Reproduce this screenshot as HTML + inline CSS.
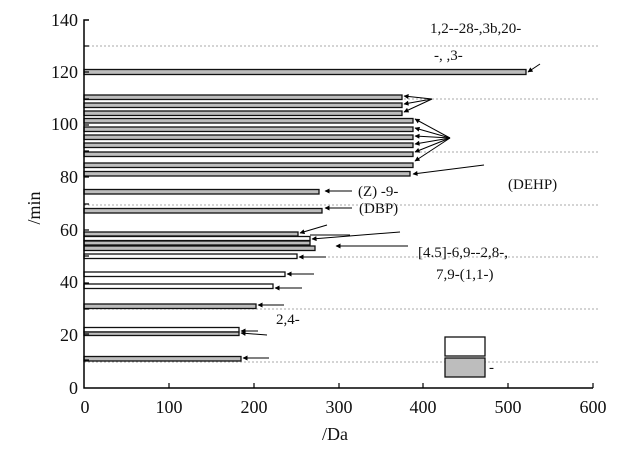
<!DOCTYPE html>
<html><head><meta charset="utf-8"><style>
html,body{margin:0;padding:0;background:#fff;}
svg{display:block;font-family:"Liberation Serif","Noto Serif CJK SC",serif;}
</style></head><body>
<svg width="634" height="451" viewBox="0 0 634 451" xmlns="http://www.w3.org/2000/svg">
<defs>
<marker id="ah" viewBox="0 0 10 10" refX="9" refY="5" markerWidth="7" markerHeight="5" orient="auto" markerUnits="userSpaceOnUse"><path d="M0,0 L10,5 L0,10 z" fill="#000"/></marker>
</defs>
<g stroke="#aaa" stroke-width="1" stroke-dasharray="2,2">
<line x1="84" y1="46" x2="600" y2="46"/>
<line x1="84" y1="99" x2="600" y2="99"/>
<line x1="84" y1="152" x2="600" y2="152"/>
<line x1="84" y1="205" x2="600" y2="205"/>
<line x1="84" y1="257" x2="600" y2="257"/>
<line x1="84" y1="309" x2="600" y2="309"/>
<line x1="84" y1="362" x2="600" y2="362"/>
</g>
<g stroke="#111" stroke-width="1.3" fill="#bdbdbd">
<rect x="84" y="69.5" width="442" height="5"/>
<rect x="84" y="95" width="318" height="4.5"/>
<rect x="84" y="103" width="318" height="4.5"/>
<rect x="84" y="111" width="318" height="4.5"/>
<rect x="84" y="118.5" width="329" height="4.5"/>
<rect x="84" y="127" width="329" height="4.5"/>
<rect x="84" y="135" width="329" height="4.5"/>
<rect x="84" y="143" width="329" height="4.5"/>
<rect x="84" y="152" width="329" height="4.5"/>
<rect x="84" y="163" width="329" height="4.5"/>
<rect x="84" y="171.5" width="326" height="4.5"/>
<rect x="84" y="189.5" width="235" height="4.5"/>
<rect x="84" y="208.5" width="238" height="4.5"/>
<rect x="84" y="232" width="214" height="4"/>
<rect x="84" y="236.5" width="226" height="4" fill="#fff"/>
<rect x="84" y="241" width="226" height="4"/>
<rect x="84" y="246" width="231" height="4.5"/>
<rect x="84" y="254" width="213" height="4.5" fill="#fff"/>
<rect x="84" y="272" width="201" height="4.5" fill="#fff"/>
<rect x="84" y="284" width="189" height="4.5" fill="#fff"/>
<rect x="84" y="304" width="172" height="4.5"/>
<rect x="84" y="327.5" width="155" height="4.5" fill="#fff"/>
<rect x="84" y="332" width="155" height="3.5"/>
<rect x="84" y="356.5" width="157" height="4.5"/>
<rect x="445" y="337" width="40" height="19" fill="#fff"/>
<rect x="445" y="358" width="40" height="19"/>
</g>
<g stroke="#000" stroke-width="1" fill="none" marker-end="url(#ah)">
<line x1="540" y1="64" x2="528" y2="72"/>
<line x1="432" y1="99" x2="404" y2="96"/>
<line x1="432" y1="99" x2="404" y2="104"/>
<line x1="432" y1="99" x2="404" y2="112"/>
<line x1="450" y1="138" x2="415" y2="119"/>
<line x1="450" y1="138" x2="415" y2="128"/>
<line x1="450" y1="138" x2="415" y2="136"/>
<line x1="450" y1="138" x2="415" y2="144"/>
<line x1="450" y1="138" x2="415" y2="152"/>
<line x1="450" y1="138" x2="415" y2="161"/>
<line x1="484" y1="165" x2="413" y2="174"/>
<line x1="352" y1="191" x2="325" y2="191"/>
<line x1="352" y1="208" x2="325" y2="208"/>
<line x1="327" y1="225" x2="300" y2="233"/>
<line x1="400" y1="232" x2="312" y2="239"/>
<line x1="408" y1="246" x2="336" y2="246"/>
<line x1="326" y1="257" x2="299" y2="257"/>
<line x1="314" y1="274" x2="287" y2="274"/>
<line x1="302" y1="288" x2="275" y2="288"/>
<line x1="284" y1="305" x2="258" y2="305"/>
<line x1="267" y1="335" x2="241" y2="333"/>
<line x1="258" y1="331" x2="241" y2="331"/>
<line x1="269" y1="358" x2="243" y2="358"/>
</g>
<line x1="310" y1="235" x2="350" y2="235" stroke="#000" stroke-width="1"/>
<g stroke="#000" stroke-width="1.5" fill="none">
<path d="M89,20 H84 V388 H593"/>
</g>
<g stroke="#000" stroke-width="1.2">
<line x1="84" y1="360" x2="89" y2="360"/><line x1="84" y1="334" x2="89" y2="334"/>
<line x1="84" y1="309" x2="89" y2="309"/><line x1="84" y1="283" x2="89" y2="283"/>
<line x1="84" y1="256" x2="89" y2="256"/><line x1="84" y1="230" x2="89" y2="230"/>
<line x1="84" y1="204" x2="89" y2="204"/><line x1="84" y1="177" x2="89" y2="177"/>
<line x1="84" y1="151" x2="89" y2="151"/><line x1="84" y1="125" x2="89" y2="125"/>
<line x1="84" y1="99" x2="89" y2="99"/><line x1="84" y1="72" x2="89" y2="72"/>
<line x1="84" y1="46" x2="89" y2="46"/>
<line x1="169" y1="388" x2="169" y2="383"/><line x1="254" y1="388" x2="254" y2="383"/>
<line x1="339" y1="388" x2="339" y2="383"/><line x1="423" y1="388" x2="423" y2="383"/>
<line x1="508" y1="388" x2="508" y2="383"/><line x1="593" y1="388" x2="593" y2="383"/>
</g>
<g font-size="18" fill="#111" text-anchor="end">
<text x="78" y="394">0</text><text x="78" y="341">20</text><text x="78" y="288">40</text>
<text x="78" y="236">60</text><text x="78" y="183">80</text><text x="78" y="130">100</text>
<text x="78" y="78">120</text><text x="78" y="26">140</text>
</g>
<g font-size="18" fill="#111" text-anchor="middle">
<text x="85" y="413">0</text><text x="169" y="413">100</text><text x="254" y="413">200</text>
<text x="339" y="413">300</text><text x="423" y="413">400</text><text x="508" y="413">500</text>
<text x="593" y="413">600</text>
<text x="335" y="440">/Da</text>
<text transform="translate(40,208) rotate(-90)">/min</text>
</g>
<g font-size="15" fill="#111">
<text x="430" y="33">1,2--28-,3b,20-</text>
<text x="434" y="60">-, ,3-</text>
<text x="508" y="189">(DEHP)</text>
<text x="358" y="196">(Z) -9-</text>
<text x="359" y="213">(DBP)</text>
<text x="418" y="257">[4.5]-6,9--2,8-,</text>
<text x="436" y="279">7,9-(1,1-)</text>
<text x="276" y="324">2,4-</text>
<text x="489" y="372">-</text>
</g>
</svg>
</body></html>
